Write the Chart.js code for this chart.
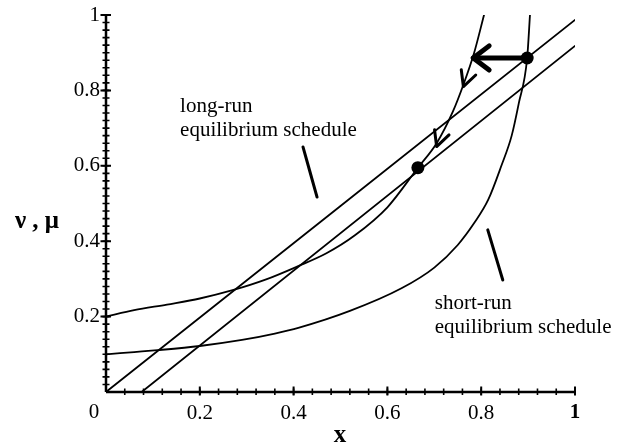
<!DOCTYPE html>
<html>
<head>
<meta charset="utf-8">
<script src="https://cdn.jsdelivr.net/npm/chart.js@4.4.0/dist/chart.umd.min.js"></script>
<style>
body { margin: 0; background: #fff; }
</style>
</head>
<body>
<canvas id="chart" width="620" height="445"></canvas>
<script>
// curve that starts at 0.2 and turns steep after the lower dot
let longRunX = [0, 0.06, 0.13, 0.2, 0.27, 0.34, 0.41, 0.47, 0.53, 0.6, 0.665, 0.705, 0.74, 0.762, 0.785, 0.806];
let longRunY = [0.2, 0.217, 0.232, 0.248, 0.27, 0.298, 0.334, 0.368, 0.415, 0.49, 0.595, 0.66, 0.745, 0.815, 0.9, 1.0];

// curve that starts at 0.1 (short-run)
let shortRunX = [0, 0.06, 0.11, 0.2, 0.29, 0.36, 0.41, 0.52, 0.63, 0.7, 0.75, 0.785, 0.815, 0.843, 0.865, 0.88, 0.898, 0.904];
let shortRunY = [0.1, 0.106, 0.111, 0.122, 0.138, 0.155, 0.17, 0.215, 0.275, 0.33, 0.39, 0.448, 0.51, 0.6, 0.68, 0.765, 0.886, 1.0];

// the two straight lines
let upperLineX = [0, 1];
let upperLineY = [0, 0.987];
let lowerLineX = [0.076, 1];
let lowerLineY = [0, 0.918];

// equilibrium dots
let dotX = [0.898, 0.665];
let dotY = [0.886, 0.595];

// thick arrow from the upper dot to the long-run curve
let bigArrowX = [0.898, 0.783];
let bigArrowY = [0.886, 0.886];

// small arrow heads on the steep part: tip and a point behind it
let smallTipX = [0.762, 0.705];
let smallTipY = [0.81, 0.651];
let smallFromX = [0.7765, 0.7195];
let smallFromY = [0.86, 0.701];

// label pointers
let longPointerX = [0.42, 0.45];
let longPointerY = [0.65, 0.517];
let shortPointerX = [0.814, 0.846];
let shortPointerY = [0.43, 0.297];

// tick labels
let xTickValues = [0.2, 0.4, 0.6, 0.8, 1];
let xTickLabels = ['0.2', '0.4', '0.6', '0.8', '1'];
let yTickValues = [0.2, 0.4, 0.6, 0.8, 1];
let yTickLabels = ['0.2', '0.4', '0.6', '0.8', '1'];
let xMinorStep = 0.04;
let yMinorStep = 0.02;

// text notes (left edge, baseline) in data units
let noteText = ['long-run', 'equilibrium schedule', 'short-run', 'equilibrium schedule'];
let noteX = [0.158, 0.158, 0.701, 0.701];
let noteY = [0.743, 0.679, 0.22, 0.157];

function points(xs, ys) {
    let out = [];
    for (let i = 0; i < xs.length; i++) {
        out.push({x: xs[i], y: ys[i]});
    }
    return out;
}

function lineSet(xs, ys, width) {
    return {
        data: points(xs, ys),
        showLine: true,
        borderColor: '#000',
        borderWidth: width,
        pointRadius: 0,
        fill: false,
        borderCapStyle: 'round',
        cubicInterpolationMode: 'monotone'
    };
}

function drawHead(ctx, tx, ty, fx, fy, len, half, width) {
    let ang = Math.atan2(ty - fy, tx - fx);
    ctx.lineWidth = width;
    ctx.lineCap = 'round';
    ctx.lineJoin = 'round';
    ctx.beginPath();
    ctx.moveTo(tx - len * Math.cos(ang - half), ty - len * Math.sin(ang - half));
    ctx.lineTo(tx, ty);
    ctx.lineTo(tx - len * Math.cos(ang + half), ty - len * Math.sin(ang + half));
    ctx.stroke();
}

let axesPlugin = {
    id: 'axes',
    afterDatasetsDraw(chart) {
        let ctx = chart.ctx;
        let xs = chart.scales.x;
        let ys = chart.scales.y;
        let x0 = xs.getPixelForValue(0), y0 = ys.getPixelForValue(0);
        let x1 = xs.getPixelForValue(1), y1 = ys.getPixelForValue(1);
        ctx.save();
        ctx.strokeStyle = '#000';
        ctx.fillStyle = '#000';

        // axis lines
        ctx.lineWidth = 2.5;
        ctx.beginPath();
        ctx.moveTo(x0, y0); ctx.lineTo(x1, y0);
        ctx.moveTo(x0, y0); ctx.lineTo(x0, y1);
        ctx.stroke();

        // minor ticks
        ctx.lineWidth = 1.6;
        ctx.beginPath();
        for (let i = 1; i * xMinorStep <= 1.0001; i++) {
            let px = xs.getPixelForValue(i * xMinorStep);
            ctx.moveTo(px, y0 - 3.5); ctx.lineTo(px, y0 + 3);
        }
        for (let i = 1; i * yMinorStep <= 1.0001; i++) {
            let py = ys.getPixelForValue(i * yMinorStep);
            ctx.moveTo(x0 - 3.5, py); ctx.lineTo(x0 + 3.5, py);
        }
        ctx.stroke();

        // major ticks
        ctx.lineWidth = 2;
        ctx.beginPath();
        for (let v of xTickValues) {
            let px = xs.getPixelForValue(v);
            ctx.moveTo(px, y0 - 5.5); ctx.lineTo(px, y0 + 3.5);
        }
        for (let v of yTickValues) {
            let py = ys.getPixelForValue(v);
            ctx.moveTo(x0 - 5.5, py); ctx.lineTo(x0 + 5, py);
        }
        ctx.stroke();

        // tick labels
        ctx.font = '21px "Liberation Serif"';
        ctx.textAlign = 'center';
        ctx.textBaseline = 'middle';
        for (let i = 0; i < xTickValues.length; i++) {
            if (xTickLabels[i] === '1') {
                ctx.font = 'bold 21px "Liberation Serif"';
            }
            ctx.fillText(xTickLabels[i], xs.getPixelForValue(xTickValues[i]), y0 + 21);
        }
        ctx.font = '21px "Liberation Serif"';
        ctx.fillText('0', x0 - 12, y0 + 20);
        ctx.textAlign = 'right';
        for (let i = 0; i < yTickValues.length; i++) {
            ctx.fillText(yTickLabels[i], x0 - 6, ys.getPixelForValue(yTickValues[i]));
        }

        // axis titles
        ctx.textAlign = 'center';
        ctx.font = 'bold 25px "Liberation Serif"';
        ctx.fillText('\u03BD , \u03BC', 37, (y0 + y1) / 2 + 18);
        ctx.font = 'bold 25px "Liberation Serif"';
        ctx.fillText('x', (x0 + x1) / 2 - 0.5, y0 + 44);

        // notes
        ctx.font = '21px "Liberation Serif"';
        ctx.textAlign = 'left';
        ctx.textBaseline = 'alphabetic';
        for (let i = 0; i < noteText.length; i++) {
            ctx.fillText(noteText[i], xs.getPixelForValue(noteX[i]), ys.getPixelForValue(noteY[i]));
        }

        // arrow heads
        let n = bigArrowX.length;
        drawHead(ctx, xs.getPixelForValue(bigArrowX[n - 1]), ys.getPixelForValue(bigArrowY[n - 1]),
            xs.getPixelForValue(bigArrowX[n - 2]), ys.getPixelForValue(bigArrowY[n - 2]), 20, 0.65, 5);
        for (let i = 0; i < smallTipX.length; i++) {
            drawHead(ctx, xs.getPixelForValue(smallTipX[i]), ys.getPixelForValue(smallTipY[i]),
                xs.getPixelForValue(smallFromX[i]), ys.getPixelForValue(smallFromY[i]), 17, 0.47, 3);
        }
        ctx.restore();
    }
};

let chart = document.getElementById("chart");
let myChart = new Chart(chart, {
    type: 'scatter',
    data: {
        datasets: [
            lineSet(longRunX, longRunY, 1.8),
            lineSet(shortRunX, shortRunY, 1.8),
            lineSet(upperLineX, upperLineY, 1.8),
            lineSet(lowerLineX, lowerLineY, 1.8),
            lineSet(bigArrowX, bigArrowY, 5),
            lineSet(longPointerX, longPointerY, 3),
            lineSet(shortPointerX, shortPointerY, 3),
            {
                data: points(dotX, dotY),
                showLine: false,
                pointRadius: 6.5,
                pointBackgroundColor: '#000',
                pointBorderColor: '#000',
                pointBorderWidth: 0
            }
        ]
    },
    options: {
        responsive: false,
        animation: false,
        layout: { padding: { left: 106, right: 45, top: 15, bottom: 53 } },
        plugins: { legend: { display: false }, tooltip: { enabled: false } },
        scales: {
            x: { type: 'linear', min: 0, max: 1, display: false },
            y: { type: 'linear', min: 0, max: 1, display: false }
        },
        elements: { line: { tension: 0 } }
    },
    plugins: [axesPlugin]
});
</script>
</body>
</html>
